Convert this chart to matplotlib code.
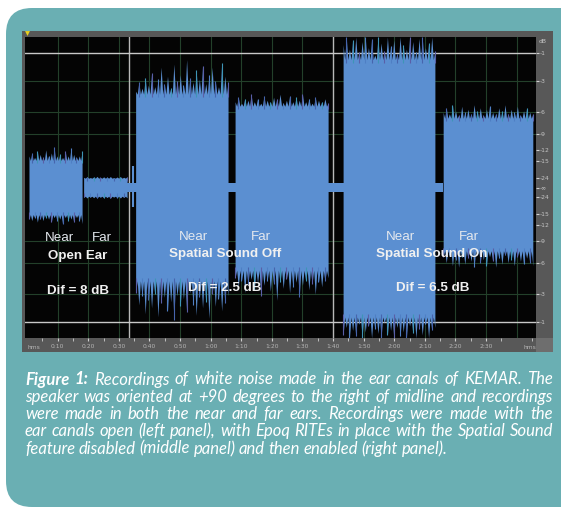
import numpy as np
import matplotlib.pyplot as plt
from matplotlib.patches import FancyBboxPatch, Rectangle

# ---- data (time in s, amplitude linear full scale = 1) ----
block_start = [0.65, 18.5, 35.5, 68.0, 103.3, 136.0]
block_end = [18.0, 32.7, 65.7, 98.4, 133.3, 165.3]
core_top = [0.18, 0.062, 0.62, 0.54, 0.85, 0.46]
core_bot = [0.18, 0.058, 0.62, 0.55, 0.86, 0.42]
peaks_top = [
    [0.21, 0.23, 0.20, 0.24, 0.22, 0.20, 0.25, 0.21, 0.23, 0.27, 0.21, 0.22, 0.20, 0.24, 0.21, 0.26, 0.22, 0.20, 0.21, 0.24],
    [0.068, 0.072, 0.066, 0.070, 0.074, 0.067, 0.071, 0.069, 0.073, 0.066, 0.070, 0.072, 0.068, 0.071],
    [0.64, 0.70, 0.66, 0.73, 0.68, 0.76, 0.67, 0.72, 0.80, 0.69, 0.74, 0.66, 0.82, 0.71, 0.75,
     0.68, 0.85, 0.73, 0.70, 0.78, 0.72, 0.81, 0.69, 0.75, 0.80, 0.71, 0.67, 0.83, 0.74, 0.70],
    [0.57, 0.60, 0.56, 0.59, 0.58, 0.62, 0.57, 0.59, 0.56, 0.61, 0.58, 0.57, 0.60, 0.59, 0.62,
     0.56, 0.58, 0.61, 0.57, 0.60, 0.58, 0.62, 0.57, 0.59, 0.56, 0.60, 0.58, 0.57, 0.59, 0.56],
    [0.95, 1.00, 0.92, 0.98, 1.00, 0.90, 0.97, 1.00, 0.93, 0.99, 0.88, 1.00, 0.96, 0.91, 1.00,
     0.94, 0.98, 0.89, 1.00, 0.95, 0.92, 1.00, 0.97, 0.90, 0.99, 1.00, 0.93, 0.96, 1.00, 0.91],
    [0.50, 0.53, 0.49, 0.55, 0.51, 0.48, 0.54, 0.50, 0.52, 0.49, 0.55, 0.51, 0.53, 0.48, 0.52,
     0.54, 0.50, 0.49, 0.53, 0.51, 0.55, 0.49, 0.52, 0.50, 0.54, 0.48, 0.51, 0.53, 0.50, 0.49],
]
peaks_bot = [
    [0.21, 0.22, 0.20, 0.23, 0.21, 0.22, 0.20, 0.21, 0.23, 0.20, 0.22, 0.21, 0.24, 0.20, 0.22, 0.21, 0.23, 0.20, 0.22, 0.24],
    [0.066, 0.070, 0.064, 0.068, 0.071, 0.065, 0.069, 0.067, 0.072, 0.064, 0.068, 0.070, 0.066, 0.069],
    [0.70, 0.78, 0.72, 0.84, 0.75, 0.80, 0.71, 0.86, 0.77, 0.73, 0.82, 0.76, 0.88, 0.72, 0.79,
     0.74, 0.83, 0.70, 0.78, 0.85, 0.73, 0.80, 0.76, 0.87, 0.71, 0.79, 0.74, 0.82, 0.77, 0.72],
    [0.60, 0.66, 0.62, 0.70, 0.64, 0.61, 0.68, 0.63, 0.72, 0.65, 0.62, 0.69, 0.64, 0.75, 0.63,
     0.67, 0.61, 0.70, 0.66, 0.63, 0.73, 0.65, 0.62, 0.68, 0.64, 0.71, 0.63, 0.66, 0.62, 0.60],
    [0.98, 0.93, 1.00, 0.95, 0.99, 0.91, 1.00, 0.96, 0.92, 1.00, 0.94, 0.97, 1.00, 0.90, 0.98,
     0.95, 1.00, 0.93, 0.99, 0.96, 1.00, 0.92, 0.97, 1.00, 0.94, 0.98, 0.91, 1.00, 0.95, 0.93],
    [0.46, 0.50, 0.45, 0.52, 0.48, 0.53, 0.46, 0.51, 0.47, 0.49, 0.53, 0.45, 0.50, 0.48, 0.52,
     0.46, 0.49, 0.53, 0.47, 0.51, 0.45, 0.50, 0.48, 0.52, 0.46, 0.49, 0.51, 0.47, 0.50, 0.52],
]
gap_start, gap_end, gap_amp = 32.7, 136.0, 0.03
blip_t, blip_top, blip_bot = 34.8, 0.14, 0.13

time_ticks = [10, 20, 30, 40, 50, 60, 70, 80, 90, 100, 110, 120, 130, 140, 150]
time_labels = ["0:10", "0:20", "0:30", "0:40", "0:50", "1:00", "1:10", "1:20",
               "1:30", "1:40", "1:50", "2:00", "2:10", "2:20", "2:30"]
db_ticks = [-1, -3, -6, -9, -12, -15, -24]
grid_db = [-3, -6, -9]

panel_labels = [
    # text, x px, y px, bold
    ("Near", 60, 238, False), ("Far", 102, 238, False),
    ("Open Ear", 78, 256, True), ("Dif = 8 dB", 78, 291, True),
    ("Near", 194, 237, False), ("Far", 261, 237, False),
    ("Spatial Sound Off", 225, 254, True), ("Dif = 2.5 dB", 225, 288, True),
    ("Near", 401, 237, False), ("Far", 469, 237, False),
    ("Spatial Sound On", 432, 254, True), ("Dif = 6.5 dB", 433, 288, True),
]

caption = [
    "Figure 1: Recordings of white noise made in the ear canals of KEMAR. The",
    "speaker was oriented at +90 degrees to the right of midline and recordings",
    "were made in both the near and far ears. Recordings were made with the",
    "ear canals open (left panel), with Epoq RITEs in place with the Spatial Sound",
    "feature disabled (middle panel) and then enabled (right panel).",
]

W, H = 561, 511
teal = "#6aafb3"
blue = "#5b8fd1"

fig = plt.figure(figsize=(W / 100, H / 100), dpi=100)
fig.patch.set_facecolor("white")

# page layer in pixel coordinates
bg = fig.add_axes([0, 0, 1, 1])
bg.set_xlim(0, W)
bg.set_ylim(H, 0)
bg.axis("off")
bg.add_patch(FancyBboxPatch((6, 8), 640, 499, boxstyle="round,pad=0,rounding_size=26",
                            fc=teal, ec="none"))
bg.add_patch(Rectangle((22, 31), 531, 321, fc="#585858", ec="none"))
bg.add_patch(Rectangle((536, 338), 17, 14, fc="#6e6e6e", ec="none"))
bg.plot([27], [33.5], marker="v", ms=3.5, color="#e8d020", mec="none")

# waveform
x0, x1, y0, y1 = 25, 536, 37, 338
ax = fig.add_axes([x0 / W, 1 - y1 / H, (x1 - x0) / W, (y1 - y0) / H])
ax.set_facecolor("#040404")
ax.set_xlim((x0 - 27) / 3.06, (x1 - 27) / 3.06)
ax.set_ylim(-1, 1)
for s in ax.spines.values():
    s.set_visible(False)

for t in range(10, 170, 10):
    ax.axvline(t, color="#23402a", lw=0.8, zorder=0)
for d in grid_db:
    a = 10 ** (d / 20)
    ax.axhline(a, color="#23402a", lw=0.8, zorder=0)
    ax.axhline(-a, color="#23402a", lw=0.8, zorder=0)
ax.axvline(33.4, color="#b8b8b8", lw=1.0, zorder=0.5)
ax.axvline(100.0, color="#b8b8b8", lw=1.0, zorder=0.5)
ax.axhline(10 ** (-1 / 20), color="#c8c8c8", lw=1.0, zorder=0.5)
ax.axhline(-10 ** (-1 / 20), color="#c8c8c8", lw=1.0, zorder=0.5)

ax.fill_between([gap_start, gap_end], -gap_amp, gap_amp, color=blue, lw=0, zorder=1)
ax.vlines([blip_t], -blip_bot, blip_top, color=blue, lw=1.5, zorder=1)

spike_cols = ["#4765ad", "#3e95b6", "#5a5fa8", "#4f7fc4"]
for s, e, ct, cb, pt, pb in zip(block_start, block_end, core_top, core_bot, peaks_top, peaks_bot):
    n = len(pt)
    xp = np.linspace(s, e, n)
    xm = (xp[:-1] + xp[1:]) / 2
    xs = np.empty(2 * n - 1)
    xs[0::2] = xp
    xs[1::2] = xm
    top = np.full(2 * n - 1, ct)
    top[0::2] = pt
    bot = np.full(2 * n - 1, -cb)
    bot[0::2] = [-v for v in pb]
    ax.fill_between(xs, bot, top, color=blue, lw=0, zorder=1)
    ax.vlines(xp[1::2], ct - 0.02, pt[1::2],
              colors=[spike_cols[k % 4] for k in range(len(xp[1::2]))], lw=0.8, zorder=1.2)
    ax.vlines(xp[0::2], [-v for v in pb[0::2]], -cb + 0.02,
              colors=[spike_cols[(k + 2) % 4] for k in range(len(xp[0::2]))], lw=0.8, zorder=1.2)

ax.set_xticks(time_ticks, time_labels)
ax.set_xticks([t + 5 for t in range(0, 165, 10)], minor=True)
ax.tick_params(axis="x", which="both", direction="out", length=2, color="#cfcfcf",
               labelsize=4.3, labelcolor="#b5b5b5", pad=2)
ax.yaxis.tick_right()
yt = [10 ** (d / 20) for d in db_ticks] + [0] + [-10 ** (d / 20) for d in db_ticks]
yl = [str(d) for d in db_ticks] + ["-\u221e"] + [str(d) for d in db_ticks]
ax.set_yticks(yt, yl)
ax.tick_params(axis="y", direction="out", length=2, color="#cfcfcf", labelsize=4.3,
               labelcolor="#c5c5c5", pad=1)
ax.text(1.006, 0.985, "dB", transform=ax.transAxes, fontsize=4.3, color="#c5c5c5", va="center")
ax.text(2.3, -1.045, "hms", fontsize=4.3, color="#b5b5b5", ha="center", va="top")
ax.text(164.4, -1.045, "hms", fontsize=4.3, color="#b5b5b5", ha="center", va="top")

for txt, px, py, bold in panel_labels:
    ax.text(px, py, txt, transform=bg.transData, ha="center", va="center",
            fontsize=9.6, family="Liberation Sans", fontweight="bold" if bold else "normal",
            color="#f0f0f0" if bold else "#e4e8ee", zorder=5)

# justified caption, font sized so the longest line nearly fills the column
fig.canvas.draw()
r = fig.canvas.get_renderer()
left, right = 25, 553
base = [384.5, 401.8, 419.1, 436.4, 453.7]
probe = bg.text(0, 0, max(caption, key=len), fontsize=10, family="Lato", style="italic")
w10 = max(bg.text(0, 0, c, fontsize=10, family="Lato", style="italic").get_window_extent(r).width
          for c in caption)
fs = 10 * (right - left - 6) / w10
for a in list(bg.texts):
    a.remove()
for i, line in enumerate(caption):
    words = line.split(" ")
    arts = []
    for j, w in enumerate(words):
        bold = i == 0 and j < 2
        arts.append(bg.text(0, base[i], w, fontsize=fs, family="Lato", style="italic",
                            fontweight="bold" if bold else "normal", color="white",
                            ha="left", va="baseline"))
    widths = [a.get_window_extent(r).width for a in arts]
    if i < len(caption) - 1:
        gap = (right - left - sum(widths)) / (len(words) - 1)
    else:
        gap = fs * 0.3
    x = left
    for a, w in zip(arts, widths):
        a.set_x(x)
        x += w + gap

fig.savefig("out.png", dpi=100, facecolor="white")
